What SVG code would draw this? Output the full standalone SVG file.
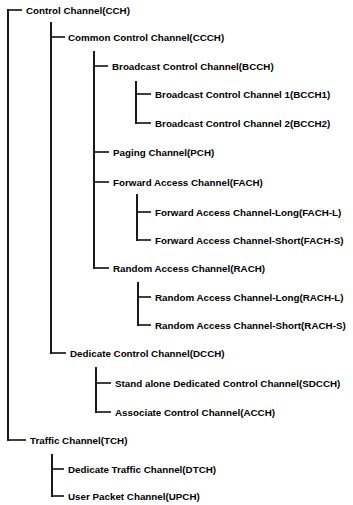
<svg xmlns="http://www.w3.org/2000/svg" width="353" height="505" viewBox="0 0 353 505">
<style>
.bg{fill:#fff}
.v{stroke:#000;stroke-width:1.8;fill:none;stroke-linecap:square}
.h{stroke:#000;stroke-width:1.4;fill:none}
text{font-family:"Liberation Sans",Arial,sans-serif;font-weight:bold;font-size:9.8px;fill:#000}
</style>
<rect class="bg" width="353" height="505"/>
<g id="connectors">
<path class="v" d="M8,10V440"/>
<path class="h" d="M8,10H22M8,440H26"/>
<path class="v" d="M51,23V353"/>
<path class="h" d="M51,37H65M51,353H66"/>
<path class="v" d="M94,52V268"/>
<path class="h" d="M94,66H108M94,152H109M94,182H109M94,268H109"/>
<path class="v" d="M136,82V123"/>
<path class="h" d="M136,94H151M136,123H151"/>
<path class="v" d="M137,195V240"/>
<path class="h" d="M137,212H151M137,240H151"/>
<path class="v" d="M138,283V325"/>
<path class="h" d="M138,297H151M138,325H151"/>
<path class="v" d="M96,368V412"/>
<path class="h" d="M96,383H111M96,412H111"/>
<path class="v" d="M52,455V496"/>
<path class="h" d="M52,469H64M52,496H64"/>
</g>
<g id="n-cch"><text x="26" y="13.5">Control Channel(CCH)</text></g>
<g id="n-ccch"><text x="68" y="40.5">Common Control Channel(CCCH)</text></g>
<g id="n-bcch"><text x="112" y="69.5">Broadcast Control Channel(BCCH)</text></g>
<g id="n-bcch1"><text x="155" y="97.5">Broadcast Control Channel 1(BCCH1)</text></g>
<g id="n-bcch2"><text x="155" y="126.5">Broadcast Control Channel 2(BCCH2)</text></g>
<g id="n-pch"><text x="113" y="155.5">Paging Channel(PCH)</text></g>
<g id="n-fach"><text x="113" y="185.5">Forward Access Channel(FACH)</text></g>
<g id="n-fachl"><text x="155" y="215.5">Forward Access Channel-Long(FACH-L)</text></g>
<g id="n-fachs"><text x="155" y="243.5">Forward Access Channel-Short(FACH-S)</text></g>
<g id="n-rach"><text x="113" y="271.5">Random Access Channel(RACH)</text></g>
<g id="n-rachl"><text x="155" y="300.5">Random Access Channel-Long(RACH-L)</text></g>
<g id="n-rachs"><text x="155" y="328.5">Random Access Channel-Short(RACH-S)</text></g>
<g id="n-dcch"><text x="70" y="356.5">Dedicate Control Channel(DCCH)</text></g>
<g id="n-sdcch"><text x="115" y="386.5">Stand alone Dedicated Control Channel(SDCCH)</text></g>
<g id="n-acch"><text x="115" y="415.5">Associate Control Channel(ACCH)</text></g>
<g id="n-tch"><text x="30" y="443.5">Traffic Channel(TCH)</text></g>
<g id="n-dtch"><text x="68" y="472.5">Dedicate Traffic Channel(DTCH)</text></g>
<g id="n-upch"><text x="68" y="499.5">User Packet Channel(UPCH)</text></g>
</svg>
